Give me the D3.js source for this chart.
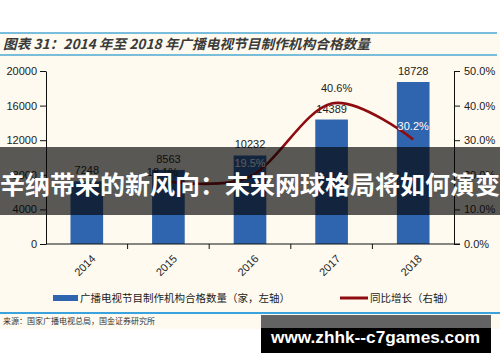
<!DOCTYPE html>
<meta charset="utf-8">
<title>广播电视节目制作机构合格数量</title>
<style>
body { margin: 0; background: #fff; }
svg text { font-family: "Liberation Sans", Arial, sans-serif; }
.cjk { font-family: "Noto Sans CJK SC", sans-serif; }
.axis path, .axis line { stroke: #111; }
.axis text { fill: #222; font-size: 11px; }
</style>
<body>
<svg width="500" height="362"></svg>
<script src="https://cdn.jsdelivr.net/npm/d3@7/dist/d3.min.js"></script>
<script>

var years = ["2014", "2015", "2016", "2017", "2018"];
var counts = [7248, 8563, 10232, 14389, 18728];
// growth starts at 2015
var growthYears = ["2015", "2016", "2017", "2018"];
var growth = [0.181, 0.195, 0.406, 0.302];
var leftTicks = [0, 4000, 8000, 12000, 16000, 20000];
var rightTicks = [0, 0.1, 0.2, 0.3, 0.4, 0.5];

var svg = d3.select("svg");
var plotLeft = 46, plotRight = 454, plotTop = 71, plotBottom = 244;

// page background + rules
svg.append("rect").attr("x", 0).attr("y", 33).attr("width", 500).attr("height", 296).attr("fill", "#fefaf0");
[33, 55].forEach(function(y) {
  svg.append("line").attr("x1", 0).attr("x2", 497).attr("y1", y).attr("y2", y)
    .attr("stroke", "#4ea8d4").attr("stroke-width", 1.5);
});
svg.append("line").attr("x1", 0).attr("x2", 500).attr("y1", 313).attr("y2", 313)
  .attr("stroke", "#3aa2dc").attr("stroke-width", 2);

svg.append("text").attr("class", "cjk")
  .attr("x", 3).attr("y", 49)
  .attr("font-size", 13.5).attr("font-weight", "bold").attr("font-style", "italic")
  .attr("fill", "#3a3a3a")
  .attr("textLength", 367).attr("lengthAdjust", "spacingAndGlyphs")
  .text("图表 31：2014 年至 2018 年广播电视节目制作机构合格数量");

var x = d3.scaleBand().domain(years).range([plotLeft, plotRight]).paddingInner(0.6).paddingOuter(0.3);
var y = d3.scaleLinear().domain([0, 20000]).range([plotBottom, plotTop]);
var y2 = d3.scaleLinear().domain([0, 0.5]).range([plotBottom, plotTop]);

// bars
svg.selectAll(".bar")
  .data(counts)
  .enter().append("rect")
  .attr("class", "bar")
  .attr("x", function(d, i) { return x(years[i]); })
  .attr("y", function(d) { return y(d); })
  .attr("width", x.bandwidth())
  .attr("height", function(d) { return plotBottom - y(d); })
  .attr("fill", "#2f65ae");

svg.selectAll(".barlabel")
  .data(counts)
  .enter().append("text")
  .attr("x", function(d, i) { return x(years[i]) + x.bandwidth() / 2; })
  .attr("y", function(d) { return y(d) - 7; })
  .attr("text-anchor", "middle")
  .attr("font-size", 11)
  .attr("fill", "#222")
  .text(function(d) { return d; });

// axes
svg.append("g").attr("class", "axis")
  .attr("transform", "translate(" + plotLeft + ",0)")
  .call(d3.axisLeft(y).tickValues(leftTicks).tickSize(6).tickPadding(3).tickSizeOuter(0)
    .tickFormat(d3.format("d")));

var ax2 = svg.append("g").attr("class", "axis")
  .attr("transform", "translate(" + plotRight + ",0)")
  .call(d3.axisRight(y2).tickValues(rightTicks).tickSize(6).tickPadding(4).tickSizeOuter(0)
    .tickFormat(function(d) { return (d * 100).toFixed(1) + "%"; }));
ax2.select(".domain").attr("stroke", "#555");

svg.append("line").attr("x1", plotLeft).attr("x2", plotRight + 6).attr("y1", plotBottom).attr("y2", plotBottom)
  .attr("stroke", "#111").attr("stroke-width", 1.2);

// category boundary ticks
var step = x.step();
d3.range(1, years.length).forEach(function(i) {
  var tx = plotLeft + i * step;
  svg.append("line").attr("x1", tx).attr("x2", tx).attr("y1", plotBottom).attr("y2", plotBottom + 5)
    .attr("stroke", "#111");
});

svg.selectAll(".xlabel")
  .data(years)
  .enter().append("text")
  .attr("transform", function(d) {
    return "translate(" + (x(d) + x.bandwidth() / 2 + 4) + "," + (plotBottom + 10) + ") rotate(-45)";
  })
  .attr("text-anchor", "end")
  .attr("dy", "0.7em")
  .attr("font-size", 11)
  .attr("fill", "#222")
  .text(function(d) { return d; });

// growth line
var line = d3.line()
  .x(function(d, i) { return x(growthYears[i]) + x.bandwidth() / 2; })
  .y(function(d) { return y2(d); })
  .curve(d3.curveCardinal.tension(0));

svg.append("path")
  .datum(growth)
  .attr("d", line)
  .attr("fill", "none")
  .attr("stroke", "#8e0c10")
  .attr("stroke-width", 2.6);

var pctDx = [-6, 0, 5, 0];
var pctDy = [-5, -9.5, -11.5, -9.5];
var pctColor = ["#222", "#fff", "#222", "#fff"];
svg.selectAll(".pct")
  .data(growth)
  .enter().append("text")
  .attr("x", function(d, i) { return x(growthYears[i]) + x.bandwidth() / 2 + pctDx[i]; })
  .attr("y", function(d, i) { return y2(d) + pctDy[i]; })
  .attr("text-anchor", "middle")
  .attr("font-size", 11)
  .attr("fill", function(d, i) { return pctColor[i]; })
  .text(function(d) { return (d * 100).toFixed(1) + "%"; });

// legend
svg.append("rect").attr("x", 53).attr("y", 295).attr("width", 25).attr("height", 6).attr("fill", "#2f65ae");
svg.append("text").attr("class", "cjk").attr("x", 80).attr("y", 302)
  .attr("font-size", 10.5).attr("fill", "#222")
  .text("广播电视节目制作机构合格数量（家，左轴）");
svg.append("line").attr("x1", 340).attr("x2", 368).attr("y1", 298).attr("y2", 298)
  .attr("stroke", "#8e0c10").attr("stroke-width", 3);
svg.append("text").attr("class", "cjk").attr("x", 370).attr("y", 302)
  .attr("font-size", 10.5).attr("fill", "#222")
  .text("同比增长（右轴）");

// source
svg.append("text").attr("class", "cjk").attr("x", 3).attr("y", 324)
  .attr("font-size", 8).attr("fill", "#333")
  .text("来源：国家广播电视总局，国金证券研究所");

// overlay banner
svg.append("rect").attr("x", 0).attr("y", 147).attr("width", 500).attr("height", 68)
  .attr("fill", "rgba(5,5,5,0.66)");
svg.append("text").attr("class", "cjk")
  .attr("x", 0).attr("y", 194)
  .attr("font-size", 25).attr("font-weight", "bold").attr("fill", "#fff")
  .attr("textLength", 500).attr("lengthAdjust", "spacingAndGlyphs")
  .text("辛纳带来的新风向：未来网球格局将如何演变");

// watermark box
svg.append("rect").attr("x", 261).attr("y", 315).attr("width", 230).attr("height", 38).attr("fill", "#000");
svg.append("rect").attr("x", 261).attr("y", 315).attr("width", 230).attr("height", 13).attr("fill", "#636363");
svg.append("text")
  .attr("x", 271).attr("y", 343)
  .attr("font-family", "'Open Sans', sans-serif")
  .attr("font-size", 17).attr("font-weight", "bold").attr("fill", "#fff")
  .attr("textLength", 209).attr("lengthAdjust", "spacingAndGlyphs")
  .text("www.zhhk--c7games.com");

</script>
</body>
